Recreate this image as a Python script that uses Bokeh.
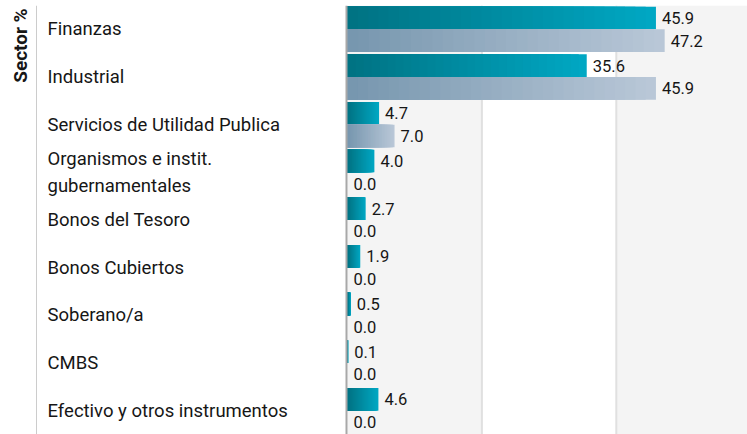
import math
from bokeh.plotting import figure
from bokeh.models import ColumnDataSource, FactorRange, Range1d, BoxAnnotation, Span
from bokeh.transform import dodge
from bokeh.core.properties import value
from bokeh.embed import file_html
from bokeh.resources import INLINE

# ---- data ----
categories = [
    "Finanzas",
    "Industrial",
    "Servicios de Utilidad Publica",
    "Organismos e instit.\ngubernamentales",
    "Bonos del Tesoro",
    "Bonos Cubiertos",
    "Soberano/a",
    "CMBS",
    "Efectivo y otros instrumentos",
]
fund = [45.9, 35.6, 4.7, 4.0, 2.7, 1.9, 0.5, 0.1, 4.6]
benchmark = [47.2, 45.9, 7.0, 0.0, 0.0, 0.0, 0.0, 0.0, 0.0]
grid_ticks = [20, 40]

# ---- layout constants ----
W, H = 747, 434
TOP = 5
PX = 6.72          # pixels per unit
ZERO_PX = 347.0    # pixel position of zero
x0 = -ZERO_PX / PX
x1 = (W - ZERO_PX) / PX
def px2x(px):
    return (px - ZERO_PX) / PX

BAR_H = 0.476
OFF = 0.238

factors = list(reversed(categories))
p = figure(width=W, height=H, output_backend="svg", toolbar_location=None,
           x_range=Range1d(x0, x1), y_range=FactorRange(*factors, range_padding=0),
           min_border_top=TOP, min_border_bottom=0, min_border_left=0, min_border_right=0,
           outline_line_color=None, background_fill_color="white", border_fill_color="white")
p.xaxis.visible = False
p.yaxis.visible = False
p.xgrid.grid_line_color = None
p.ygrid.grid_line_color = None

# background bands
p.add_layout(BoxAnnotation(left=0, right=grid_ticks[0], fill_color="#f4f4f4", fill_alpha=1, line_color=None, level="underlay"))
p.add_layout(BoxAnnotation(left=grid_ticks[1], fill_color="#f4f4f4", fill_alpha=1, line_color=None, level="underlay"))
for t in grid_ticks:
    p.add_layout(Span(location=t, dimension="height", line_color="#e0e0e0", line_width=2, level="underlay"))

def lerp(c1, c2, t):
    return "#%02x%02x%02x" % tuple(int(round(a + (b - a) * t)) for a, b in zip(c1, c2))

N = 30
def gradient_bars(vals, offset, c_left, c_right):
    ys, rights, colors = [], [], []
    for k in range(N, 0, -1):
        t = (k - 0.5) / N
        col = lerp(c_left, c_right, t)
        for cat, v in zip(categories, vals):
            if v <= 0:
                continue
            ys.append(cat)
            rights.append(v * k / N)
            colors.append(col)
    src = ColumnDataSource(dict(y=ys, right=rights, color=colors))
    p.hbar(y=dodge("y", offset, range=p.y_range), left=0, right="right", height=BAR_H,
           fill_color="color", line_color=None, source=src)

gradient_bars(fund, OFF, (0, 114, 130), (0, 168, 196))
gradient_bars(benchmark, -OFF, (118, 150, 174), (186, 200, 216))

# value labels
for vals, offset in ((fund, OFF), (benchmark, -OFF)):
    src = ColumnDataSource(dict(y=categories, x=vals, t=["%.1f" % v for v in vals]))
    p.text(x="x", y=dodge("y", offset, range=p.y_range), text="t", source=src,
           x_offset=6, text_align="left", text_baseline="middle",
           text_font=value("Roboto"), text_font_size="16.5px", text_color="#161616")

# zero axis line
p.add_layout(Span(location=px2x(346), dimension="height", line_color="#a8a8a8", line_width=2))
# left separator line
p.add_layout(Span(location=px2x(36), dimension="height", line_color="#cccccc", line_width=1))

# category labels
lab_src = ColumnDataSource(dict(y=categories, x=[px2x(47)] * len(categories), t=categories))
p.text(x="x", y="y", text="t", source=lab_src, text_align="left", text_baseline="middle",
       text_font=value("Roboto"), text_font_size="18.5px", text_color="#161616",
       text_line_height=1.2)

# axis title
p.text(x=[px2x(20)], y=[categories[0]], text=["Sector %"], angle=math.pi / 2,
       y_offset=-21, text_align="right", text_baseline="middle",
       text_font=value("Roboto"), text_font_style="bold", text_font_size="19px",
       text_color="#161616")

open("out.html", "w").write(file_html(p, INLINE))
